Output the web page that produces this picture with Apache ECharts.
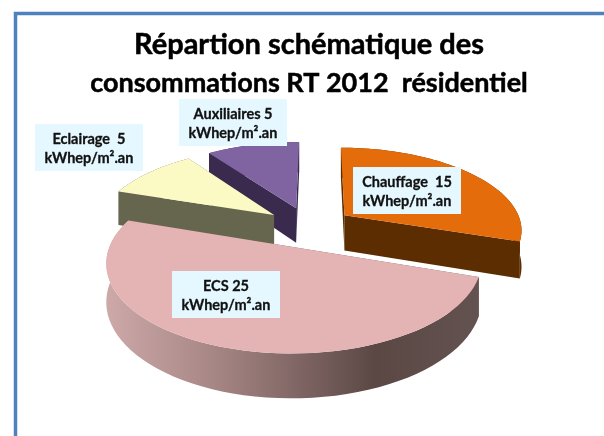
<!DOCTYPE html>
<html>
<head>
<meta charset="utf-8">
<style>
  html, body { margin: 0; padding: 0; background: #fff; }
  #chart { width: 604px; height: 436px; }
</style>
<script src="https://cdn.jsdelivr.net/npm/echarts@6/dist/echarts.min.js"></script>
</head>
<body>
<div id="chart"></div>
<script>
const categories = ['Chauffage', 'ECS', 'Eclairage', 'Auxiliaires'];
const values = [15, 25, 5, 5];
const labels = ['Chauffage  15', 'ECS 25', 'Eclairage  5', 'Auxiliaires 5'];
const unit = 'kWhep/m².an';

const topColors = ['#e46c0a', '#e4b4b4', '#fbfac4', '#8064a2'];
const wallColors = ['#5c2d00', '#6e5857', '#66664e', '#3a2a4e'];
const layers = [3, 4, 2, 1]; // back slices first
const labelBoxes = [[353, 167], [172, 271], [35, 124], [179, 99]];

// fake 3D pie: ellipse with perspective, echarts core has no 3D pie
const cx = 309, cy = 227, rx = 178, ry = 82, persp = 0.16;
const depth = 36, explode = 0.25, firstAngle = 270.5;
const total = values.reduce((a, b) => a + b, 0);

function project(u, v, drop) {
  const s = 1 / (1 - persp * v);
  return [cx + rx * u * s, cy + ry * v * s + (drop ? depth * s : 0)];
}

function slicePoints(startDeg, endDeg) {
  const mid = (startDeg + endDeg) / 2 * Math.PI / 180;
  const ox = explode * Math.cos(mid), oy = explode * Math.sin(mid);
  const arc = [];
  const n = 60;
  for (let k = 0; k <= n; k++) {
    const t = (startDeg + (endDeg - startDeg) * k / n) * Math.PI / 180;
    arc.push([ox + Math.cos(t), oy + Math.sin(t)]);
  }
  return { apex: [ox, oy], arc };
}

function wall(a, b, fill, z2) {
  const top = a.concat(b);
  return {
    type: 'polygon',
    z2,
    silent: true,
    shape: {
      points: top.map(p => project(p[0], p[1], false))
        .concat(top.slice().reverse().map(p => project(p[0], p[1], true)))
    },
    style: { fill }
  };
}

function renderItem(params, api) {
  const i = params.dataIndex;
  let before = 0;
  for (let j = 0; j < i; j++) before += values[j];
  const start = firstAngle + before / total * 360;
  const end = start + api.value(1) / total * 360;
  const { apex, arc } = slicePoints(start, end);
  const base = layers[i] * 10;

  let arcFill = wallColors[i];
  if (i === 1) {
    // ECS rim is lit from the left
    arcFill = new echarts.graphic.LinearGradient(0, 0, 1, 0, [
      { offset: 0, color: '#cda9a8' },
      { offset: 0.3, color: '#a58584' },
      { offset: 0.72, color: '#5b4845' },
      { offset: 1, color: '#635250' }
    ]);
  }

  const children = [
    wall([apex], [arc[0]], wallColors[i], base),
    wall([apex], [arc[arc.length - 1]], wallColors[i], base + 1),
    wall(arc, [], arcFill, base + 2),
    {
      type: 'polygon',
      z2: base + 3,
      silent: true,
      shape: { points: [apex].concat(arc).map(p => project(p[0], p[1], false)) },
      style: { fill: topColors[i] }
    },
    {
      type: 'rect',
      z2: 100,
      silent: true,
      shape: { x: labelBoxes[i][0], y: labelBoxes[i][1], width: 108, height: 47 },
      style: { fill: '#e5f8ff' }
    },
    {
      type: 'text',
      z2: 101,
      silent: true,
      style: {
        x: labelBoxes[i][0] + 54,
        y: labelBoxes[i][1] + 25,
        text: labels[i] + '\n' + unit,
        align: 'center',
        verticalAlign: 'middle',
        fill: '#111',
        stroke: '#111',
        lineWidth: 0.3,
        font: 'bold 14.5px Lato',
        lineHeight: 19
      }
    }
  ];
  return { type: 'group', children };
}

const titleStyle = {
  fontFamily: 'Lato',
  fontWeight: 'bold',
  lineHeight: 36,
  color: '#000',
  textBorderColor: '#000',
  textBorderWidth: 0.5
};

const chart = echarts.init(document.getElementById('chart'));
chart.setOption({
  animation: false,
  backgroundColor: '#fff',
  title: [
    {
      text: 'Répartion schématique des',
      left: 309,
      top: 27,
      padding: 0,
      textAlign: 'center',
      textStyle: { ...titleStyle, fontSize: 29 }
    },
    {
      text: 'consommations RT 2012  résidentiel',
      left: 309,
      top: 65,
      padding: 0,
      textAlign: 'center',
      textStyle: { ...titleStyle, fontSize: 27 }
    }
  ],
  graphic: [{
    type: 'rect',
    silent: true,
    shape: { x: 15.5, y: 13.5, width: 800, height: 800 },
    style: { fill: 'none', stroke: '#4f81bd', lineWidth: 3.5 }
  }],
  series: [{
    type: 'custom',
    coordinateSystem: 'none',
    renderItem,
    data: categories.map((c, i) => ({ name: c, value: [i, values[i]] }))
  }]
});
</script>
</body>
</html>
